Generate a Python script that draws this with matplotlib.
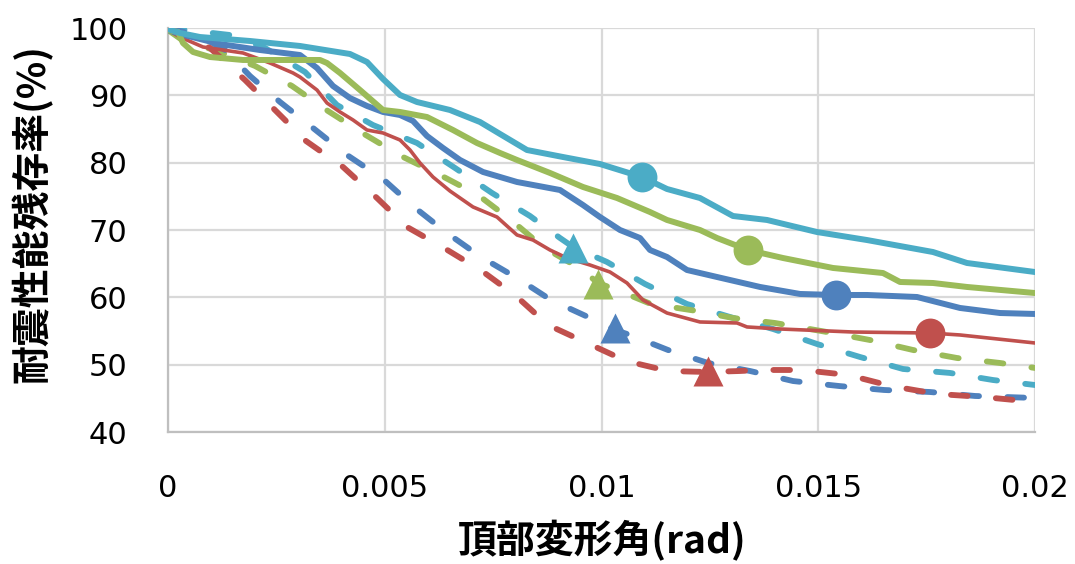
import matplotlib
matplotlib.use("Agg")
import matplotlib.pyplot as plt

plt.rcParams['lines.scale_dashes'] = False
plt.rcParams['font.family'] = ['DejaVu Sans']

# ---- data (x: drift angle rad, y: residual seismic capacity %) ----
cyan_solid_x = [0, 0.000277, 0.000738, 0.001892, 0.003045, 0.004198, 0.004591, 0.00496, 0.005352,
                0.005744, 0.006505, 0.007197, 0.007659, 0.008281, 0.009112, 0.009965, 0.010934,
                0.011511, 0.012272, 0.013033, 0.013818, 0.014971, 0.016125, 0.017647, 0.018431, 0.02]
cyan_solid_y = [99.85, 99.26, 98.66, 98.07, 97.33, 96.14, 94.95, 92.43, 90.05, 89.01, 87.82, 86.04,
                84.26, 81.88, 80.84, 79.80, 77.87, 76.09, 74.75, 72.08, 71.49, 69.70, 68.51, 66.73,
                65.10, 63.76]

green_solid_x = [0, 0.000231, 0.000346, 0.000577, 0.000969, 0.00173, 0.003506, 0.003668, 0.003968,
                 0.004429, 0.00496, 0.005352, 0.005975, 0.006574, 0.007128, 0.007659, 0.008051,
                 0.008812, 0.009573, 0.010358, 0.011119, 0.011511, 0.012272, 0.012665, 0.01338,
                 0.014187, 0.01534, 0.016494, 0.016886, 0.017647, 0.018431, 0.02]
green_solid_y = [99.70, 99.41, 97.77, 96.44, 95.69, 95.25, 95.25, 94.80, 93.32, 90.79, 87.82, 87.53,
                 86.78, 84.85, 82.92, 81.44, 80.40, 78.47, 76.39, 74.75, 72.67, 71.49, 70.0, 68.81,
                 67.03, 65.84, 64.36, 63.61, 62.28, 62.13, 61.54, 60.64]

blue_solid_x = [0, 0.000277, 0.0012, 0.002122, 0.003045, 0.003437, 0.003806, 0.004198, 0.004591,
                0.00496, 0.005352, 0.005652, 0.005975, 0.006344, 0.006736, 0.007266, 0.008051,
                0.009043, 0.009573, 0.009965, 0.010427, 0.010888, 0.011119, 0.011511, 0.011972,
                0.012665, 0.013657, 0.014579, 0.015386, 0.016125, 0.017278, 0.01827, 0.019193, 0.02]
blue_solid_y = [99.70, 99.11, 97.62, 96.73, 95.99, 94.06, 91.39, 89.60, 88.42, 87.53, 87.08, 86.19,
                83.96, 82.18, 80.40, 78.62, 77.13, 75.94, 73.71, 71.93, 70.0, 68.81, 67.03, 65.99,
                64.06, 63.02, 61.54, 60.50, 60.35, 60.35, 60.05, 58.42, 57.67, 57.53]

red_solid_x = [0, 0.000277, 0.000807, 0.00173, 0.002353, 0.002884, 0.003045, 0.003437, 0.003668,
               0.003968, 0.004268, 0.004591, 0.00496, 0.005352, 0.005583, 0.005814, 0.006113,
               0.006505, 0.007036, 0.007589, 0.008051, 0.00842, 0.008812, 0.009204, 0.009735,
               0.010196, 0.010588, 0.010957, 0.011511, 0.012272, 0.013126, 0.013357, 0.014118,
               0.015802, 0.017578, 0.01827, 0.02]
red_solid_y = [99.70, 98.66, 97.18, 96.29, 94.80, 93.32, 92.72, 90.79, 88.86, 87.53, 86.34, 84.85,
               84.41, 83.37, 81.88, 79.95, 77.87, 75.79, 73.42, 71.93, 69.26, 68.51, 67.03, 65.84,
               64.80, 63.76, 62.13, 59.60, 57.67, 56.34, 56.19, 55.60, 55.30, 54.85, 54.70, 54.41,
               53.22]

cyan_dash_x = [0, 0.00143, 0.002238, 0.00316, 0.003899, 0.004729, 0.005744, 0.006621, 0.007474,
               0.008351, 0.009043, 0.009343, 0.010127, 0.011004, 0.011972, 0.012964, 0.013956,
               0.014971, 0.015963, 0.016955, 0.018039, 0.019031, 0.02]
cyan_dash_y = [100, 98.96, 97.03, 93.47, 88.56, 85.59, 82.92, 79.21, 75.50, 72.08, 68.81, 67.48,
               65.25, 61.98, 59.01, 57.08, 55.30, 53.07, 51.14, 49.36, 48.77, 47.72, 46.98]

green_dash_x = [0, 0.000392, 0.001084, 0.002007, 0.00286, 0.003691, 0.004521, 0.005375, 0.006275,
                0.007151, 0.007912, 0.008651, 0.009527, 0.009919, 0.010358, 0.011142, 0.012203,
                0.013033, 0.014002, 0.015202, 0.016194, 0.017186, 0.018201, 0.019193, 0.02]
green_dash_y = [99.70, 97.92, 96.73, 94.36, 91.39, 87.67, 84.26, 80.99, 78.17, 75.20, 71.49, 67.48,
                64.21, 62.13, 61.09, 59.01, 57.97, 56.93, 56.19, 54.85, 53.66, 52.18, 50.99, 50.25,
                49.51]

blue_dash_x = [0, 0.000738, 0.001315, 0.001892, 0.002584, 0.003345, 0.004129, 0.00496, 0.005675,
               0.006436, 0.00722, 0.008051, 0.008835, 0.009689, 0.010312, 0.010657, 0.011534,
               0.012457, 0.013426, 0.014418, 0.015479, 0.016517, 0.017578, 0.018616, 0.02]
blue_dash_y = [100, 98.81, 96.73, 92.87, 89.01, 85.15, 81.14, 77.57, 73.42, 69.55, 65.99, 62.87,
               59.60, 57.08, 55.15, 54.41, 52.18, 50.25, 49.06, 47.57, 46.83, 46.24, 45.94, 45.35,
               45.05]

red_dash_x = [0, 0.000969, 0.001776, 0.002468, 0.003183, 0.004037, 0.004821, 0.005513, 0.006367,
              0.007243, 0.008028, 0.008766, 0.009665, 0.010565, 0.011534, 0.012457, 0.013195,
              0.013656, 0.014625, 0.015686, 0.016678, 0.01774, 0.018801, 0.02]
red_dash_y = [100, 97.03, 92.28, 87.82, 83.22, 79.36, 74.75, 70.45, 67.33, 63.91, 60.20, 55.89,
              53.22, 50.55, 49.06, 48.91, 49.06, 49.21, 49.21, 48.47, 46.83, 45.65, 45.20, 44.46]

# marker points
circle_x = [0.010934, 0.01338, 0.0154, 0.017578]
circle_y = [77.9, 67.0, 60.3, 54.7]
triangle_x = [0.00934, 0.00992, 0.01031, 0.01246]
triangle_y = [67.4, 62.0, 55.4, 49.1]

x_ticks = [0, 0.005, 0.01, 0.015, 0.02]
x_tick_labels = ["0", "0.005", "0.01", "0.015", "0.02"]
y_ticks = [40, 50, 60, 70, 80, 90, 100]

CYAN, GREEN, BLUE, RED = "#4BACC6", "#9BBB59", "#4F81BD", "#C0504D"
marker_colors = [CYAN, GREEN, BLUE, RED]

fig = plt.figure(figsize=(10.75, 5.64), dpi=100)
ax = fig.add_axes([168/1075, 132/564, 867/1075, 404/564])

dash = (0, (12.0, 20.4))
for xs, ys, c in [(cyan_dash_x, cyan_dash_y, CYAN), (green_dash_x, green_dash_y, GREEN),
                  (blue_dash_x, blue_dash_y, BLUE), (red_dash_x, red_dash_y, RED)]:
    ax.plot(xs, ys, color=c, lw=4.2, linestyle=dash, dash_capstyle='round',
            dash_joinstyle='round', zorder=3)

for xs, ys, c, lw in [(red_solid_x, red_solid_y, RED, 2.6), (blue_solid_x, blue_solid_y, BLUE, 4.3),
                      (green_solid_x, green_solid_y, GREEN, 4.3), (cyan_solid_x, cyan_solid_y, CYAN, 4.3)]:
    ax.plot(xs, ys, color=c, lw=lw, solid_capstyle='round', solid_joinstyle='round', zorder=4)

for i in range(4):
    ax.plot([circle_x[i]], [circle_y[i]], 'o', color=marker_colors[i], ms=21.5, mec='none',
            zorder=6, clip_on=False)
    ax.plot([triangle_x[i]], [triangle_y[i]], '^', color=marker_colors[i], ms=21.5, mec='none',
            zorder=6, clip_on=False)

ax.set_xlim(0, 0.02)
ax.set_ylim(40, 100)
ax.set_xticks(x_ticks)
ax.set_xticklabels(x_tick_labels)
ax.set_yticks(y_ticks)
ax.tick_params(axis='both', length=0, labelsize=22, colors='black')
ax.tick_params(axis='x', pad=30)
ax.tick_params(axis='y', pad=29)
ax.grid(True, color='#D9D9D9', lw=1.6, zorder=0)
ax.set_axisbelow(True)
for s in ['top', 'right']:
    ax.spines[s].set_visible(False)
for s in ['left', 'bottom']:
    ax.spines[s].set_color('#BFBFBF')
    ax.spines[s].set_linewidth(1.6)

cjk = ['Noto Sans CJK JP', 'DejaVu Sans']
ax.set_xlabel("頂部変形角(rad)", family=cjk, fontsize=28, fontweight='bold')
ax.xaxis.label.set_va('center')
ax.xaxis.set_label_coords(0.5006, -0.27)
ax.set_ylabel("耐震性能残存率(%)", family=cjk, fontsize=28, fontweight='bold')
ax.yaxis.label.set_va('center')
ax.yaxis.set_label_coords(-0.157, 0.541)

fig.savefig("out.png", dpi=100)
